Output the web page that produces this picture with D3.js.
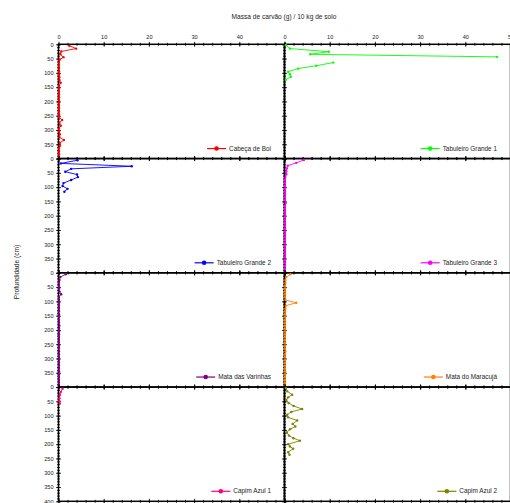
<!DOCTYPE html>
<html><head><meta charset="utf-8">
<script src="https://cdn.jsdelivr.net/npm/d3@7"></script>
<style>body{margin:0;background:#fff}svg{display:block}text{font-family:"Liberation Sans",Arial,sans-serif}</style>
</head><body><svg id="c" width="510" height="503"></svg>
<script>
// ---- data ----
const seriesNames = ["Cabeça de Boi","Tabuleiro Grande 1","Tabuleiro Grande 2","Tabuleiro Grande 3","Mata das Varinhas","Mata do Maracujá","Capim Azul 1","Capim Azul 2"];
const xTickLabels = [0,10,20,30,40,50];
const yTickLabels = [0,50,100,150,200,250,300,350,400];

const depthCB = [5,15,25,35,45,55,65,75,85,95,105,115,125,135,145,155,165,175,185,195,205,215,225,235,245,255,265,275,285,295,305,315,325,335,345,355,365,375,385,395];
const valCB   = [2.4,3.9,0.6,0.4,1.1,0.2,0.1,0.1,0.1,0.1,0.1,0.2,0.2,0.5,0.1,0.1,0.1,0.1,0.1,0.1,0.1,0.1,0.1,0.1,0.1,0.1,0.8,0.2,0.5,0.1,0.1,0.3,0.2,1.2,0.3,0.3,0.1,0.1,0.1,0.1];

const depthTG1 = [3,15,26,35,44,55,64,75,85,96,105,114,124];
const valTG1   = [0.3,1.2,9.8,5.7,47,null,10.8,7.0,3.0,0.8,1.2,1.4,0.3];

const depthTG2 = [6,17,27,36,46,56,65,75,86,96,106,116];
const valTG2   = [4.2,0.5,16.2,2.8,1.5,4.1,4.3,2.8,1.1,0.9,2.0,1.3];

const depthTG3 = [5,15,25,35,45,55,65,75,85,95,105,115,125,135,145,155,165,175,185,195,205,215,225,235,245,255,265,275,285,295,305,315,325,335,345,355,365,375,385,395];
const valTG3   = [4.3,2.6,0.7,0.5,0.4,0.4,0.2,0.1,0.1,0.1,0.1,0.1,0.1,0.1,0.1,0.3,0.1,0.1,0.1,0.1,0.1,0.1,0.1,0.1,0.1,0.1,0.1,0.1,0.1,0.1,0.1,0.1,0.1,0.1,0.1,0.1,0.1,0.1,0.1,0.1];

const depthMV = [5,15,25,35,45,55,65,75,85,95,105,115,125,135,145,155,165,175,185,195,205,215,225,235,245,255,265,275,285,295,305,315,325,335,345,355,365,375,385,395];
const valMV   = [1.6,0.4,0.2,0.1,0.1,0.1,0.2,0.6,0.1,0.1,0.1,0.1,0.1,0.1,0.1,0.1,0.1,0.1,0.2,0.1,0.1,0.1,0.1,0.1,0.1,0.1,0.1,0.1,0.1,0.1,0.1,0.1,0.1,0.1,0.1,0.1,0.1,0.1,0.1,0.1];

const depthMM = [5,15,25,35,45,55,65,75,85,95,105,115,125,135,145,155,165,175,185,195,205,215,225,235,245,255,265,275,285,295,305,315,325,335,345,355,365,375,385,395];
const valMM   = [1.3,0.4,0.2,0.2,0.1,0.1,0.1,0.1,0.1,0.2,2.6,0.3,0.2,0.1,0.1,0.1,0.1,0.1,0.1,0.1,0.1,0.1,0.1,0.1,0.1,0.1,0.1,0.2,0.1,0.1,0.1,0.1,0.1,0.1,0.1,0.1,0.1,0.1,0.1,0.1];

const depthCA1 = [6,17,28,39,49,58];
const valCA1   = [0.9,0.5,0.3,0.2,0.2,0.3];

const depthCA2 = [3,15,27,36,45,56,66,77,87,97,106,117,129,138,148,159,170,179,188,200,208,216,228,237];
const valCA2   = [0.3,0.6,1.7,0.8,0.4,0.9,2.0,3.9,1.5,0.6,0.8,2.8,1.8,2.4,1.2,0.5,1.0,2.0,3.4,0.8,1.2,1.9,0.8,1.1];

const depths = [depthCB,depthTG1,depthTG2,depthTG3,depthMV,depthMM,depthCA1,depthCA2];
const values = [valCB,valTG1,valTG2,valTG3,valMV,valMM,valCA1,valCA2];
const colors = ["#ff0000","#00ff00","#0000ff","#ff00ff","#800080","#ff8000","#ff0080","#808000"];

// ---- layout ----
const svg = d3.select("#c");
const colX = [58.5, 284.5], colW = 226;
const top0 = 44.3, rowH = 114.25;
const font = "Liberation Sans, Arial, sans-serif";

svg.append("text").attr("x",284).attr("y",19).attr("text-anchor","middle")
  .attr("font-size",6.6).attr("fill","#222").text("Massa de carvão (g) / 10 kg de solo");
svg.append("text").attr("transform","translate(19,272) rotate(-90)").attr("text-anchor","middle")
  .attr("font-size",6.6).attr("fill","#222").text("Profundidade (cm)");

const minorX = d3.range(0,51,2), minorY = d3.range(0,401,10);

seriesNames.forEach((name,i)=>{
  const col=i%2,row=Math.floor(i/2);
  const x=d3.scaleLinear().domain([0,50]).range([colX[col],colX[col]+colW]);
  const y=d3.scaleLinear().domain([0,400]).range([top0+row*rowH, top0+(row+1)*rowH]);
  const g=svg.append("g");
  const y0=y(0), y1=y(400), x0=x(0), x1=x(50);

  // ticks (crossing border)
  const tickAx = (gen, tv, size, tr) => {
    [size,-size].forEach(s=>{
      const a=g.append("g").attr("transform",tr).call(gen.tickValues(tv).tickSize(s).tickFormat(""));
      a.select(".domain").remove();
      a.selectAll("line").attr("stroke","#000").attr("stroke-width",0.8);
    });
  };
  tickAx(d3.axisTop(x), minorX, 1.5, `translate(0,${y0})`);
  tickAx(d3.axisBottom(x), minorX, 1.5, `translate(0,${y1})`);
  tickAx(d3.axisLeft(y), minorY, 1.5, `translate(${x0},0)`);
  tickAx(d3.axisTop(x), [0,10,20,30,40,50], 2.5, `translate(0,${y0})`);
  tickAx(d3.axisBottom(x), [0,10,20,30,40,50], 2.5, `translate(0,${y1})`);
  tickAx(d3.axisLeft(y), yTickLabels, 2.5, `translate(${x0},0)`);

  // frame
  g.append("rect").attr("x",x0).attr("y",y0).attr("width",x1-x0).attr("height",y1-y0)
    .attr("fill","none").attr("stroke","#000").attr("stroke-width",1.5);

  // labels
  if(row===0){
    const tv = col===0 ? xTickLabels.slice(0,5) : xTickLabels;
    const a=g.append("g").attr("transform",`translate(0,${y0-3})`)
      .call(d3.axisTop(x).tickValues(tv).tickSize(0).tickPadding(2));
    a.select(".domain").remove();
    a.selectAll("text").attr("font-size",5.6).attr("font-family",font).attr("fill","#222");
  }
  if(col===0){
    const tv = row===3 ? yTickLabels : yTickLabels.slice(0,8);
    const a=g.append("g").attr("transform",`translate(${x0-3},0)`)
      .call(d3.axisLeft(y).tickValues(tv).tickSize(0).tickPadding(2));
    a.select(".domain").remove();
    a.selectAll("text").attr("font-size",5.6).attr("font-family",font).attr("fill","#222");
  }

  // data
  const pts = depths[i].map((d,k)=>({d, v:values[i][k]}));
  const line=d3.line().defined(p=>p.v!==null).x(p=>x(p.v)).y(p=>y(p.d));
  g.append("path").datum(pts).attr("d",line).attr("fill","none")
    .attr("stroke",colors[i]).attr("stroke-width",0.9);
  g.selectAll("circle.pt").data(pts.filter(p=>p.v!==null)).join("circle")
    .attr("cx",p=>x(p.v)).attr("cy",p=>y(p.d)).attr("r",1.2).attr("fill",colors[i]);

  // legend
  const tx = col===0 ? 271 : 497, ty = y1-10;
  const t=g.append("text").attr("x",tx).attr("y",ty+2).attr("text-anchor","end")
    .attr("font-size",6.4).attr("fill","#222").text(name);
  const tw=t.node().getComputedTextLength();
  const ls=tx-tw-22, le=tx-tw-3;
  g.append("line").attr("x1",ls).attr("x2",le).attr("y1",ty).attr("y2",ty)
    .attr("stroke",colors[i]).attr("stroke-width",1.2);
  g.append("circle").attr("cx",(ls+le)/2).attr("cy",ty).attr("r",2.3).attr("fill",colors[i]);
});
</script></body></html>
